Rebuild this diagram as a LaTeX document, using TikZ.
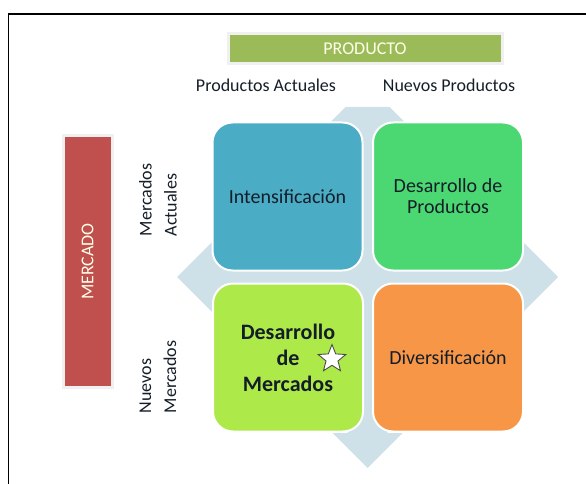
\documentclass[tikz,border=0pt]{standalone}
\usepackage{fontspec}
\setmainfont{Carlito}
\usetikzlibrary{positioning,shapes.geometric,shadows}
\definecolor{cellBlue}{RGB}{75,172,198}
\definecolor{cellGreen}{RGB}{75,216,115}
\definecolor{cellLime}{RGB}{174,233,74}
\definecolor{cellOrange}{RGB}{247,150,70}
\definecolor{barGreen}{RGB}{155,187,89}
\definecolor{barRed}{RGB}{192,80,77}
\definecolor{arrowBack}{RGB}{206,224,232}
\definecolor{textDark}{RGB}{20,30,40}

\begin{document}
\begin{tikzpicture}[
    x=1pt, y=-1pt,
    cell/.style={rectangle, rounded corners=20pt, draw=white, line width=2pt, minimum width=150pt, minimum height=148pt, inner sep=2pt, align=center, text=textDark, font=\fontsize{20}{21}\selectfont},
    axis bar/.style={rectangle, draw=black!6, line width=3pt, inner sep=0pt, text=white!92!yellow, font=\fontsize{18}{20}\selectfont, drop shadow={opacity=0.35, shadow xshift=1.5pt, shadow yshift=-1.5pt}},
    axis note/.style={inner sep=0pt, text=textDark, font=\fontsize{18}{20}\selectfont},
    side note/.style={inner sep=0pt, rotate=90, align=left, text=textDark, font=\fontsize{18}{25}\selectfont}
]
  \useasboundingbox (0,0) rectangle (586,484);
  % frame
  \draw[line width=1.5pt] (586,14) -- (8.5,14) -- (8.5,484);

  % background arrows
  \fill[arrowBack] (345.5,107) -- (389.5,107) -- (404.5,122) -- (387.5,122) -- (387.5,257)
    -- (523,257) -- (523,242) -- (558,277) -- (523,312) -- (523,297) -- (387.5,297)
    -- (387.5,433) -- (402.5,433) -- (367.5,468) -- (332.5,433) -- (347.5,433) -- (347.5,297)
    -- (213,297) -- (213,313) -- (177,277) -- (213,241) -- (213,257) -- (347.5,257)
    -- (347.5,122) -- (330.5,122) -- cycle;

  % cells
  \node[cell, fill=cellBlue] (intens) at (287.5,196.5) {Intensificación};
  \node[cell, fill=cellGreen] (desprod) at (448,196.5) {Desarrollo de\\Productos};
  \node[cell, fill=cellLime, font=\fontsize{22}{26}\selectfont\bfseries] (desmerc) at (288,357.5) {Desarrollo\\de\\Mercados};
  \node[cell, fill=cellOrange] (divers) at (448,357.5) {Diversificación};
  \node[star, star points=5, star point ratio=2.3, minimum size=29pt, inner sep=0pt, draw=black!70, line width=0.9pt, fill=white] (mark) at (332,359) {};

  % axes
  \node[axis bar, fill=barGreen, minimum width=274pt, minimum height=30pt] (producto) at (365,49) {PRODUCTO};
  \node[axis note] (prodact) at (266,85) {Productos Actuales};
  \node[axis note] (prodnew) at (449,85) {Nuevos Productos};

  \node[axis bar, fill=barRed, minimum width=251pt, minimum height=49pt, rotate=90] (mercado) at (87.5,261.5) {MERCADO};
  \node[side note] (mercact) at (158,200) {Mercados\\Actuales};
  \node[side note] (mercnew) at (158,377) {Nuevos\\Mercados};
\end{tikzpicture}
\end{document}
